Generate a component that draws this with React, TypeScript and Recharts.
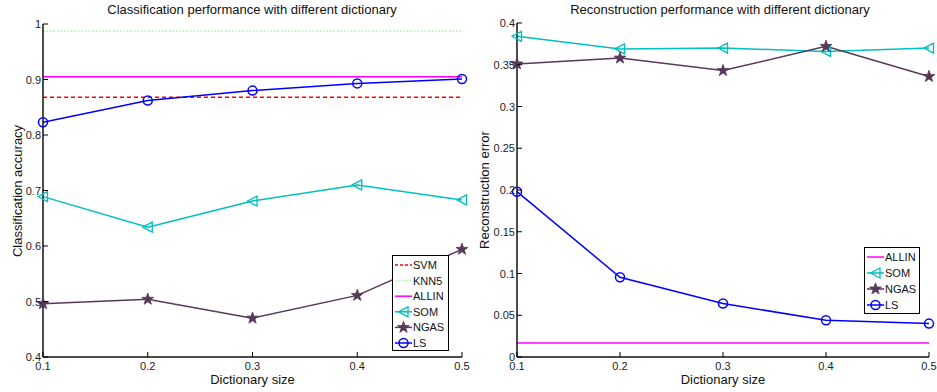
import React from 'react';
import { LineChart, Line, XAxis, YAxis, ReferenceLine } from 'recharts';

// ---------- data ----------
const dictionarySizes = [0.1, 0.2, 0.3, 0.4, 0.5];

const lsAccuracy = [0.823, 0.862, 0.88, 0.893, 0.901];
const somAccuracy = [0.689, 0.634, 0.681, 0.71, 0.683];
const ngasAccuracy = [0.496, 0.504, 0.47, 0.511, 0.594];
const svmAccuracy = 0.868;
const knn5Accuracy = 0.987;
const allinAccuracy = 0.905;

const lsError = [0.198, 0.0955, 0.064, 0.044, 0.04];
const somError = [0.384, 0.369, 0.37, 0.366, 0.37];
const ngasError = [0.351, 0.358, 0.343, 0.372, 0.336];
const allinError = 0.0168;

const accuracyTicks = [0.4, 0.5, 0.6, 0.7, 0.8, 0.9, 1];
const errorTicks = [0, 0.05, 0.1, 0.15, 0.2, 0.25, 0.3, 0.35, 0.4];

const leftTitle = 'Classification performance with different dictionary';
const rightTitle = 'Reconstruction performance with different dictionary';
const xLabel = 'Dictionary size';
const leftYLabel = 'Classification accuracy';
const rightYLabel = 'Reconstruction error';

// ---------- styles ----------
const FONT = '"Liberation Sans", Arial, Helvetica, sans-serif';
const C_LS = '#0000ff';
const C_SOM = '#00bfbf';
const C_NGAS = '#573857';
const C_SVM = '#ff0000';
const C_KNN = '#99ff99';
const C_ALLIN = '#ff00ff';

const accuracyData = dictionarySizes.map((x, i) => ({
  x,
  ls: lsAccuracy[i],
  som: somAccuracy[i],
  ngas: ngasAccuracy[i],
}));
const errorData = dictionarySizes.map((x, i) => ({
  x,
  ls: lsError[i],
  som: somError[i],
  ngas: ngasError[i],
}));

function Circle({ cx, cy, color }: any) {
  return <circle cx={cx} cy={cy} r={4.5} fill="none" stroke={color} strokeWidth={1.5} />;
}
function TriLeft({ cx, cy, color }: any) {
  const pts = `${cx - 5},${cy} ${cx + 4.5},${cy - 5} ${cx + 4.5},${cy + 5}`;
  return <polygon points={pts} fill="none" stroke={color} strokeWidth={1.3} />;
}
function Star({ cx, cy, color }: any) {
  const R = 6.2;
  const r = R * 0.4;
  const pts: string[] = [];
  for (let i = 0; i < 10; i++) {
    const a = -Math.PI / 2 + (i * Math.PI) / 5;
    const rr = i % 2 === 0 ? R : r;
    pts.push(`${cx + rr * Math.cos(a)},${cy + rr * Math.sin(a)}`);
  }
  return <polygon points={pts.join(' ')} fill={color} stroke={color} strokeWidth={0.8} />;
}

const markerFor = (kind: string, color: string) => (p: any) => {
  const key = `${kind}-${p.index}`;
  if (kind === 'circle') return <Circle key={key} cx={p.cx} cy={p.cy} color={color} />;
  if (kind === 'tri') return <TriLeft key={key} cx={p.cx} cy={p.cy} color={color} />;
  return <Star key={key} cx={p.cx} cy={p.cy} color={color} />;
};

const fmt = (v: number) => String(Number(v.toFixed(3)));

type PanelProps = {
  left: number;
  width: number;
  plotLeft: number;
  plotRight: number;
  plotTop: number;
  plotBottom: number;
  yDomain: [number, number];
  yTicks: number[];
  data: any[];
  refLines: { y: number; color: string; dash?: string }[];
  title: string;
  titleX: number;
  yLabel: string;
  yLabelX: number;
  legend: { name: string; color: string; dash?: string; marker?: string }[];
  legendBox: { left: number; top: number; width: number; height: number; row: number; first: number };
};

function Panel(props: PanelProps) {
  const { left, width, plotLeft, plotRight, plotTop, plotBottom, yDomain, yTicks, data, refLines } = props;
  const H = 392;
  const bottomTick = (p: any) => (
    <g>
      <line x1={p.x} y1={plotBottom} x2={p.x} y2={plotBottom - 5} stroke="#000" strokeWidth={1} />
      <text x={p.x} y={plotBottom + 13} textAnchor="middle" fontSize={11} fontFamily={FONT} fill="#222">
        {fmt(p.payload.value)}
      </text>
    </g>
  );
  const topTick = (p: any) => (
    <line x1={p.x} y1={plotTop} x2={p.x} y2={plotTop + 5} stroke="#000" strokeWidth={1} />
  );
  const leftTick = (p: any) => (
    <g>
      <line x1={plotLeft} y1={p.y} x2={plotLeft + 5} y2={p.y} stroke="#000" strokeWidth={1} />
      <text x={plotLeft - 2} y={p.y + 4} textAnchor="end" fontSize={11} fontFamily={FONT} fill="#222">
        {fmt(p.payload.value)}
      </text>
    </g>
  );
  const rightTick = (p: any) => (
    <line x1={plotRight} y1={p.y} x2={plotRight - 5} y2={p.y} stroke="#000" strokeWidth={1} />
  );
  const axisLine = { stroke: '#111', strokeWidth: 1.5 };
  const lb = props.legendBox;
  return (
    <div style={{ position: 'absolute', left, top: 0, width, height: H }}>
      <LineChart
        width={width}
        height={H}
        data={data}
        margin={{ top: plotTop, right: width - plotRight, bottom: 0, left: 0 }}
      >
        <XAxis
          xAxisId="b"
          dataKey="x"
          type="number"
          domain={[0.1, 0.5]}
          ticks={dictionarySizes}
          interval={0}
          height={H - plotBottom}
          axisLine={axisLine}
          tickLine={false}
          tick={bottomTick}
        />
        <XAxis
          xAxisId="t"
          orientation="top"
          dataKey="x"
          type="number"
          domain={[0.1, 0.5]}
          ticks={dictionarySizes}
          interval={0}
          height={0}
          axisLine={axisLine}
          tickLine={false}
          tick={topTick}
        />
        <YAxis
          yAxisId="l"
          type="number"
          domain={yDomain}
          ticks={yTicks}
          interval={0}
          width={plotLeft}
          axisLine={axisLine}
          tickLine={false}
          tick={leftTick}
        />
        <YAxis
          yAxisId="r"
          orientation="right"
          type="number"
          domain={yDomain}
          ticks={yTicks}
          interval={0}
          width={0}
          axisLine={axisLine}
          tickLine={false}
          tick={rightTick}
        />
        {refLines.map((r, i) => (
          <ReferenceLine
            key={i}
            xAxisId="b"
            yAxisId="l"
            y={r.y}
            stroke={r.color}
            strokeWidth={1.5}
            strokeDasharray={r.dash}
          />
        ))}
        <Line xAxisId="b" yAxisId="l" dataKey="som" stroke={C_SOM} strokeWidth={1.5} dot={markerFor('tri', C_SOM)} isAnimationActive={false} />
        <Line xAxisId="b" yAxisId="l" dataKey="ngas" stroke={C_NGAS} strokeWidth={1.5} dot={markerFor('star', C_NGAS)} isAnimationActive={false} />
        <Line xAxisId="b" yAxisId="l" dataKey="ls" stroke={C_LS} strokeWidth={1.5} dot={markerFor('circle', C_LS)} isAnimationActive={false} />
      </LineChart>
      <div
        style={{
          position: 'absolute',
          left: props.titleX,
          top: 2,
          transform: 'translateX(-50%)',
          whiteSpace: 'nowrap',
          fontFamily: FONT,
          fontSize: 13,
          color: '#111',
        }}
      >
        {props.title}
      </div>
      <div
        style={{
          position: 'absolute',
          left: (plotLeft + plotRight) / 2,
          top: 372,
          transform: 'translateX(-50%)',
          whiteSpace: 'nowrap',
          fontFamily: FONT,
          fontSize: 13,
          color: '#111',
        }}
      >
        {xLabel}
      </div>
      <div
        style={{
          position: 'absolute',
          left: props.yLabelX,
          top: (plotTop + plotBottom) / 2,
          transform: 'translate(-50%, -50%) rotate(-90deg)',
          whiteSpace: 'nowrap',
          fontFamily: FONT,
          fontSize: 13,
          color: '#111',
        }}
      >
        {props.yLabel}
      </div>
      <svg
        style={{ position: 'absolute', left: lb.left, top: lb.top }}
        width={lb.width}
        height={lb.height}
      >
        <rect x={0.5} y={0.5} width={lb.width - 1} height={lb.height - 1} fill="#fff" stroke="#000" strokeWidth={1} />
        {props.legend.map((e, i) => {
          const cy = lb.first + i * lb.row;
          return (
            <g key={e.name}>
              <line x1={3} y1={cy} x2={20} y2={cy} stroke={e.color} strokeWidth={1.5} strokeDasharray={e.dash} />
              {e.marker === 'circle' && <Circle cx={11.5} cy={cy} color={e.color} />}
              {e.marker === 'tri' && <TriLeft cx={11.5} cy={cy} color={e.color} />}
              {e.marker === 'star' && <Star cx={11.5} cy={cy} color={e.color} />}
              <text x={21} y={cy + 4} fontSize={11} fontFamily={FONT} fill="#111">
                {e.name}
              </text>
            </g>
          );
        })}
      </svg>
    </div>
  );
}

export default function App() {
  return (
    <div style={{ position: 'absolute', left: 0, top: 0, width: 937, height: 392, background: '#fff' }}>
      <Panel
        left={0}
        width={470}
        plotLeft={43}
        plotRight={462}
        plotTop={24}
        plotBottom={357}
        yDomain={[0.4, 1]}
        yTicks={accuracyTicks}
        data={accuracyData}
        refLines={[
          { y: svmAccuracy, color: C_SVM, dash: '4 3' },
          { y: knn5Accuracy, color: C_KNN, dash: '1.5 2' },
          { y: allinAccuracy, color: C_ALLIN },
        ]}
        title={leftTitle}
        titleX={252}
        yLabel={leftYLabel}
        yLabelX={17}
        legend={[
          { name: 'SVM', color: C_SVM, dash: '3 2' },
          { name: 'KNN5', color: C_KNN, dash: '1.5 1.5' },
          { name: 'ALLIN', color: C_ALLIN },
          { name: 'SOM', color: C_SOM, marker: 'tri' },
          { name: 'NGAS', color: C_NGAS, marker: 'star' },
          { name: 'LS', color: C_LS, marker: 'circle' },
        ]}
        legendBox={{ left: 392, top: 255, width: 57, height: 96, row: 15.6, first: 10 }}
      />
      <Panel
        left={470}
        width={467}
        plotLeft={47}
        plotRight={459}
        plotTop={23}
        plotBottom={357}
        yDomain={[0, 0.4]}
        yTicks={errorTicks}
        data={errorData}
        refLines={[{ y: allinError, color: C_ALLIN }]}
        title={rightTitle}
        titleX={250}
        yLabel={rightYLabel}
        yLabelX={14}
        legend={[
          { name: 'ALLIN', color: C_ALLIN },
          { name: 'SOM', color: C_SOM, marker: 'tri' },
          { name: 'NGAS', color: C_NGAS, marker: 'star' },
          { name: 'LS', color: C_LS, marker: 'circle' },
        ]}
        legendBox={{ left: 394, top: 247, width: 56, height: 67, row: 16, first: 10 }}
      />
    </div>
  );
}
